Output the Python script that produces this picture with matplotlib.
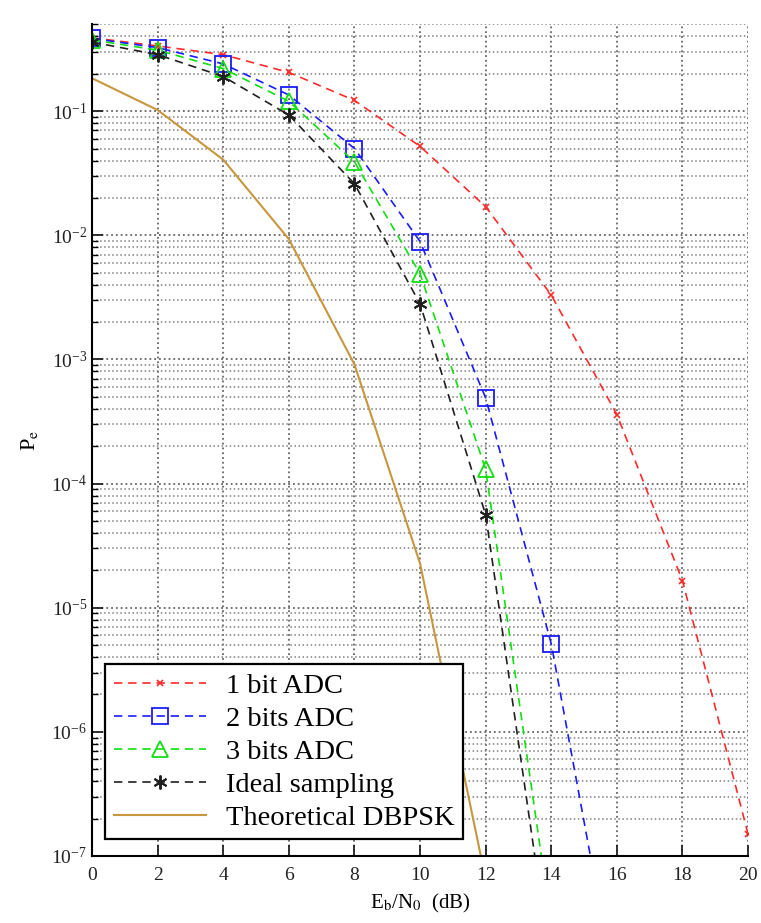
import numpy as np
import matplotlib
matplotlib.use('Agg')
import matplotlib.pyplot as plt
from matplotlib.ticker import LogLocator, LogFormatterMathtext, NullFormatter

plt.rcParams['font.family'] = ['Liberation Serif', 'DejaVu Serif']
plt.rcParams['mathtext.fontset'] = 'stix'

# ---- data ----
snr_db = [0, 2, 4, 6, 8, 10, 12, 14, 16, 18, 20]
pe_1bit = [0.39, 0.335, 0.285, 0.205, 0.122, 0.052, 0.017, 3.3e-3, 3.6e-4, 1.65e-5, 1.5e-7]

snr_2bit = [0, 2, 4, 6, 8, 10, 12, 14, 16]
pe_2bit = [0.385, 0.325, 0.24, 0.135, 0.05, 8.9e-3, 4.9e-4, 5.1e-6, 7e-9]

snr_3bit = [0, 2, 4, 6, 8, 10, 12, 14]
pe_3bit = [0.375, 0.31, 0.22, 0.12, 0.039, 4.9e-3, 1.3e-4, 2.8e-8]

snr_ideal = [0, 2, 4, 6, 8, 10, 12, 14]
pe_ideal = [0.36, 0.285, 0.19, 0.093, 0.026, 2.8e-3, 5.6e-5, 1.2e-8]

snr_theory = [0, 2, 4, 6, 8, 10, 12]
pe_theory = [0.184, 0.102, 0.0406, 9.3e-3, 9.1e-4, 2.27e-5, 6.5e-8]

y_major = [1e-7, 1e-6, 1e-5, 1e-4, 1e-3, 1e-2, 1e-1]

fig = plt.figure(figsize=(7.61, 9.23), dpi=100)
ax = fig.add_axes([0.121, 0.0726, 0.862, 0.901])

dash = (0, (5, 3.5))
ax.plot(snr_db, pe_1bit, color='#ff2a2a', linestyle=dash, lw=1.2,
        marker='x', ms=5, mew=1.2, label='1 bit ADC')
ax.plot(snr_2bit, pe_2bit, color='#1a1aff', linestyle=dash, lw=1.2,
        marker='s', ms=11, mfc='none', mew=1.3, label='2 bits ADC')
ax.plot(snr_3bit, pe_3bit, color='#10e010', linestyle=dash, lw=1.2,
        marker='^', ms=11, mfc='none', mew=1.3, label='3 bits ADC')
ax.plot(snr_ideal, pe_ideal, color='#202020', linestyle=dash, lw=1.2,
        marker=(6, 2, 0), ms=10, mew=1.4, label='Ideal sampling')
ax.plot(snr_theory, pe_theory, color='#c8963c', linestyle='-', lw=1.5,
        label='Theoretical DBPSK')

ax.set_yscale('log')
ax.set_xlim(0, 20)
ax.set_ylim(1e-7, 0.5)
ax.set_xticks(np.arange(0, 21, 2))
ax.set_yticks(y_major)
ax.yaxis.set_minor_locator(LogLocator(base=10, subs=np.arange(2, 10), numticks=100))
ax.yaxis.set_major_formatter(LogFormatterMathtext())
ax.yaxis.set_minor_formatter(NullFormatter())

ax.grid(True, which='major', color='#666666', linestyle=':', linewidth=1.3)
ax.grid(True, which='minor', axis='y', color='#808080', linestyle=':', linewidth=1.1)
ax.set_axisbelow(True)

ax.spines[['top', 'right']].set_visible(False)
ax.spines['left'].set_linewidth(1.5)
ax.spines['bottom'].set_linewidth(1.5)
ax.tick_params(which='major', direction='in', length=8, width=1.3, labelsize=14, colors='#222222')
ax.tick_params(which='minor', direction='in', length=4, width=1.0)
ax.tick_params(axis='x', pad=8)

ax.set_xlabel(r'E$_\mathrm{b}$/N$_\mathrm{0}$  (dB)', fontsize=15, labelpad=6)
ax.set_ylabel(r'P$_\mathrm{e}$', fontsize=16, labelpad=8)

leg = ax.legend(loc='lower left', bbox_to_anchor=(0.02, 0.02), fontsize=20.5,
                frameon=True, fancybox=False, edgecolor='black', borderaxespad=0,
                handlelength=3.25, handletextpad=0.7, borderpad=0.3, labelspacing=0.25)
leg.get_frame().set_linewidth(1.6)
leg.get_frame().set_alpha(1)

plt.savefig('out.png', dpi=100)
